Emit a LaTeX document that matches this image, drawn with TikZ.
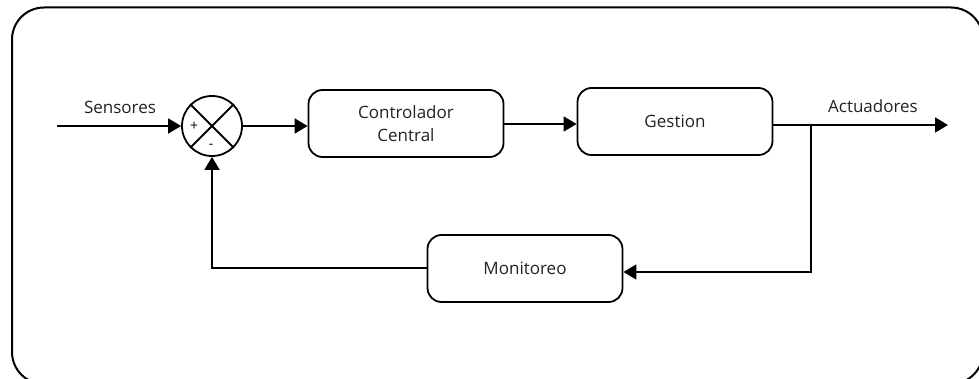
\documentclass[tikz,border=0pt]{standalone}
\usepackage{fontspec}
\setmainfont{Open Sans}
\usetikzlibrary{arrows.meta}
\definecolor{txt}{HTML}{222222}
\begin{document}
\begin{tikzpicture}[x=1pt,y=-1pt,
  line width=1.8pt,
  tip/.style={-{Triangle[length=13pt,width=15pt]}},
  blockbox/.style={draw,rounded corners=14pt,minimum width=195pt,minimum height=67pt,inner sep=0pt,align=center,text=txt,font=\fontsize{17}{23}\selectfont},
  lbl/.style={font=\fontsize{17}{20}\selectfont,inner sep=0pt,text=txt},
  sumnode/.style={draw,circle,minimum size=60pt,inner sep=0pt}]
\useasboundingbox (0,0) rectangle (979,379);
\begin{scope}
\clip (0,0) rectangle (979,379);
\draw[line width=2pt,rounded corners=32pt] (12,7.5) rectangle (983,384);
\end{scope}
% sum junction
\node[sumnode] (sum) at (212,126) {};
\draw (sum.north west) -- (sum.south east);
\draw (sum.north east) -- (sum.south west);
\node[font=\fontsize{14}{16}\selectfont,inner sep=0pt] (plus) at (194,126) {+};
\node[font=\fontsize{14}{16}\selectfont,inner sep=0pt] (minus) at (211,146) {-};
% blocks
\node[blockbox] (ctrl) at (406,123.5) {Controlador\\Central};
\node[blockbox] (gest) at (675,121.5) {Gestion};
\node[blockbox] (mon) at (525,268.5) {Monitoreo};
% input
\coordinate (in) at (57,126);
\draw[tip] (in) -- (sum.west);
\node[lbl] (sens) at (120,107) {Sensores};
% forward
\draw[tip] (sum.east) -- (sum.east -| ctrl.west);
\draw[tip] (ctrl.east |- 0,124) -- (ctrl.east |- 0,124 -| gest.west);
% output
\coordinate (out) at (948,125);
\coordinate (branch) at (811,125);
\draw[tip] (gest.east |- out) -- (out);
\node[lbl] (act) at (873,106) {Actuadores};
% feedback
\coordinate (fbdown) at (811,272);
\draw[tip] (branch) -- (fbdown) -- (fbdown -| mon.east);
\coordinate (fbleft) at (212,268);
\draw[tip] (mon.west |- fbleft) -- (fbleft) -- (sum.south);
\end{tikzpicture}
\end{document}
